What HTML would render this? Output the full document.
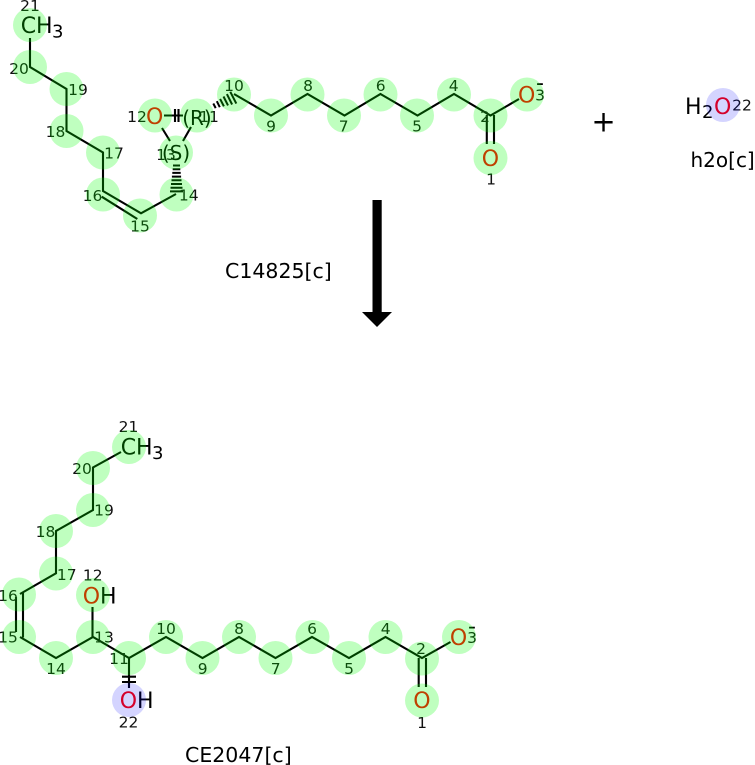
<!DOCTYPE html>
<html><head><meta charset="utf-8"><style>
html,body{margin:0;padding:0;background:#fff;width:755px;height:765px;overflow:hidden}
svg{display:block;position:absolute;left:0;top:0}
text{font-family:"DejaVu Sans",sans-serif}
.n{font-size:15.5px;text-anchor:middle;fill:#111}
.a{font-size:22px}
.s{font-size:18px}
.o{fill:#f00}
.l{font-size:20.5px}
</style></head><body>
<svg width="755" height="765" viewBox="0 0 755 765">
<g fill="none" stroke="#000" stroke-width="2.1">
<path d="M30 38V67L66.500 89V131L103 152.500V191L141 213.300L176 194"/>
<path d="M101.700 196.700L137.300 219"/>
<path d="M162 128L170 141M191 127L183 141M164 115.500H183"/>
<path d="M175 109V122M178.500 109V122"/>
<path d="M234 94L271 115.500L307.500 94L344.500 115.500L380.500 94L417.500 115.500L454 94L490.500 115.500L519 99"/>
<path d="M486.800 115V144M494 115V144"/>
<path d="M121 452L93 467.500V510L56 531V573.300L20 594"/>
<path d="M23 593V637.500M16 597V632"/>
<path d="M20 637L56 658L93 637L129 658L166 637L202.500 658L239 637L275.500 658L312 637L349 658L385.500 637L422 658L450.500 642"/>
<path d="M92.500 637V607M129 658V688"/>
<path d="M122 676.700H136M122 682H136"/>
<path d="M418.700 658V687M426 658V687"/>
<g stroke-width="2">
<path d="M173 165.500H180M172.700 169.200H180.300M172.300 172.900H180.700M171.900 176.600H181.100M171.500 180.300H181.500M171 184H182M170.500 187.700H182.500M170 191.400H183"/>
<path d="M213.300 103.500L215.700 108.100M216.800 101.200L219.800 107.200M220.100 98.900L223.900 106.300M223.500 96.500L228 105.400M226.900 94.100L232.100 104.500M230.300 91.800L236.300 103.600"/>
</g>
</g>
<g fill="#000">
<rect x="372.500" y="200" width="9.200" height="113"/>
<polygon points="362,312 392,312 377,327"/>
</g>
<text x="20.700" y="33" class="a">CH</text><text x="52" y="37.500" class="s">3</text>
<text x="146" y="124" class="a o">O</text>
<text x="176" y="160" text-anchor="middle" style="font-size:20px">(S)</text>
<text x="197" y="125" text-anchor="middle" style="font-size:20px">(R)</text>
<text x="481.700" y="166" class="a o">O</text>
<text x="518" y="102.700" class="a o">O</text>
<text x="540" y="90" text-anchor="middle" class="a">-</text>
<text x="603.500" y="131.500" text-anchor="middle" style="font-size:29px">+</text>
<text x="685" y="114" class="a">H</text><text x="702" y="118" class="s">2</text>
<text x="714" y="114" class="a o">O</text>
<text x="690.500" y="167" style="font-size:20px">h2o[c]</text>
<text x="225" y="278" class="l">C14825[c]</text>
<text x="120.700" y="454.500" class="a">CH</text><text x="152" y="459" class="s">3</text>
<text x="82.700" y="603.700" class="a"><tspan class="o">O</tspan>H</text>
<text x="119.700" y="708" class="a"><tspan class="o">O</tspan>H</text>
<text x="413.200" y="708" class="a o">O</text>
<text x="449.900" y="645" class="a o">O</text>
<text x="472" y="633.500" text-anchor="middle" class="a">-</text>
<text x="185" y="762" class="l">CE2047[c]</text>
<g class="nums">
<text class="n" x="30" y="11">21</text><text class="n" x="19" y="74">20</text><text class="n" x="78" y="95">19</text><text class="n" x="55.500" y="137">18</text><text class="n" x="114" y="158.700">17</text><text class="n" x="92.500" y="201">16</text><text class="n" x="140" y="231.700">15</text><text class="n" x="188.700" y="200.700">14</text><text class="n" x="166" y="160">13</text><text class="n" x="137" y="122">12</text><text class="n" x="209" y="122">11</text><text class="n" x="234" y="91">10</text><text class="n" x="271" y="131.700">9</text><text class="n" x="308" y="91">8</text><text class="n" x="343.700" y="131.700">7</text><text class="n" x="380.700" y="91">6</text><text class="n" x="417" y="131.700">5</text><text class="n" x="453.700" y="91">4</text><text class="n" x="485" y="122">2</text><text class="n" x="491" y="184.300">1</text><text class="n" x="540" y="100.700">3</text>
<text class="n" x="742" y="110.700">22</text>
<text class="n" x="128.500" y="432">21</text><text class="n" x="82" y="474">20</text><text class="n" x="104" y="515.700">19</text><text class="n" x="45.500" y="537">18</text><text class="n" x="66.700" y="580">17</text><text class="n" x="8" y="601">16</text><text class="n" x="8" y="642.700">15</text><text class="n" x="56" y="674">14</text><text class="n" x="104" y="642.700">13</text><text class="n" x="92.700" y="580.700">12</text><text class="n" x="119" y="664">11</text><text class="n" x="166" y="634">10</text><text class="n" x="202.700" y="674">9</text><text class="n" x="239" y="634">8</text><text class="n" x="275.700" y="674">7</text><text class="n" x="312" y="634">6</text><text class="n" x="349" y="674">5</text><text class="n" x="385.700" y="634">4</text><text class="n" x="421" y="654">2</text><text class="n" x="422" y="728">1</text><text class="n" x="472" y="643">3</text><text class="n" x="128.500" y="727.700">22</text>
</g>
<g fill="#0f0" fill-opacity=".25">
<circle cx="30" cy="25" r="17"/><circle cx="30" cy="67" r="17"/><circle cx="66.500" cy="89" r="17"/><circle cx="66.500" cy="131" r="17"/><circle cx="103" cy="152.500" r="17"/><circle cx="103" cy="194.500" r="17"/><circle cx="140" cy="215.500" r="17"/><circle cx="176.500" cy="194.500" r="17"/><circle cx="176" cy="152.500" r="17"/><circle cx="155" cy="115.500" r="17"/><circle cx="197" cy="115.500" r="17"/><circle cx="234" cy="94.500" r="17"/><circle cx="271" cy="115.500" r="17"/><circle cx="307.500" cy="94.500" r="17"/><circle cx="344" cy="115.500" r="17"/><circle cx="380.500" cy="94.500" r="17"/><circle cx="417" cy="115.500" r="17"/><circle cx="454" cy="94.500" r="17"/><circle cx="490.500" cy="115.500" r="17"/><circle cx="490.500" cy="158" r="17"/><circle cx="527" cy="94.500" r="17"/>
<circle cx="129" cy="447" r="17"/><circle cx="93" cy="468" r="17"/><circle cx="93" cy="510" r="17"/><circle cx="56" cy="531" r="17"/><circle cx="56" cy="573.500" r="17"/><circle cx="19" cy="594.500" r="17"/><circle cx="19" cy="637" r="17"/><circle cx="56" cy="658" r="17"/><circle cx="93" cy="637" r="17"/><circle cx="93" cy="595" r="17"/><circle cx="129" cy="658" r="17"/><circle cx="166" cy="637" r="17"/><circle cx="202.500" cy="658" r="17"/><circle cx="239" cy="637" r="17"/><circle cx="275.500" cy="658" r="17"/><circle cx="312.500" cy="637" r="17"/><circle cx="349" cy="658" r="17"/><circle cx="385.500" cy="637" r="17"/><circle cx="422" cy="658.500" r="17"/><circle cx="422" cy="700.500" r="17"/><circle cx="459" cy="637" r="17"/>
</g>
<g fill="#00f" fill-opacity=".17">
<circle cx="723" cy="105" r="17"/><circle cx="129" cy="700" r="17"/>
</g>
</svg>
</body></html>
